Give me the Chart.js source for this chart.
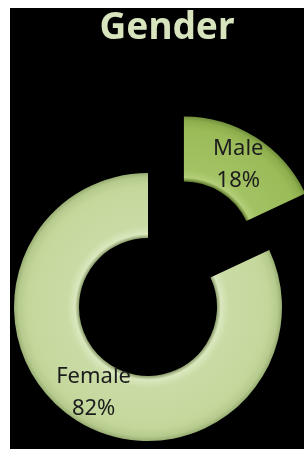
<!DOCTYPE html>
<html>
<head>
<meta charset="utf-8">
<script src="https://cdn.jsdelivr.net/npm/chart.js@4/dist/chart.umd.min.js"></script>
<style>
  html, body { margin: 0; padding: 0; background: #fff; }
  #box { position: absolute; left: 10px; top: 8px; width: 294px; height: 441px; background: #000; }
</style>
</head>
<body>
<div id="box"><canvas id="myChart" width="294" height="441"></canvas></div>
<script>
var chartTitle = 'Gender';
var labels = ['Male', 'Female'];
var values = [18, 82];
var percentLabels = ['18%', '82%'];

var explodedSlice = 'Male';
var explodeDist = 67;
var baseColors = ['#9bbb59', '#c4d79b'];
var shades = [
  ['#5f7a2e', '#b3cf78', '#a3c264', '#9bbb59', '#8eae4e', '#718f3c'],
  ['#8a9c6a', '#dae8be', '#cadca6', '#c4d79b', '#b6ca8d', '#98ad72']
];

// bevel-ish shading across the ring width
function ringGradient(ctx, arc, i) {
  var g = ctx.createRadialGradient(arc.x, arc.y, arc.innerRadius, arc.x, arc.y, arc.outerRadius);
  var s = shades[i];
  g.addColorStop(0, s[0]);
  g.addColorStop(0.06, s[1]);
  g.addColorStop(0.18, s[2]);
  g.addColorStop(0.8, s[3]);
  g.addColorStop(0.93, s[4]);
  g.addColorStop(1, s[5]);
  return g;
}

// pull a slice away from the centre along its middle angle
function sliceShift(arc, i) {
  if (labels[i] !== explodedSlice) return { x: 0, y: 0 };
  var mid = (arc.startAngle + arc.endAngle) / 2;
  return { x: Math.cos(mid) * explodeDist, y: Math.sin(mid) * explodeDist };
}

var explodePlugin = {
  id: 'explode',
  beforeDatasetDraw: function(chart, args) {
    var ctx = chart.ctx;
    args.meta.data.forEach(function(arc, i) {
      var d = sliceShift(arc, i);
      arc.options.backgroundColor = ringGradient(ctx, arc, i);
      ctx.save();
      ctx.translate(d.x, d.y);
      arc.draw(ctx, chart.chartArea);
      ctx.restore();
    });
    return false;
  },
  afterDatasetsDraw: function(chart) {
    var ctx = chart.ctx;
    var meta = chart.getDatasetMeta(0);
    ctx.save();
    ctx.fillStyle = '#1c1c1c';
    ctx.font = '22px "Noto Sans"';
    ctx.textAlign = 'center';
    ctx.textBaseline = 'middle';
    meta.data.forEach(function(arc, i) {
      var p = arc.getCenterPoint();
      var d = sliceShift(arc, i);
      ctx.fillText(labels[i], p.x + d.x, p.y + d.y - 16);
      ctx.fillText(percentLabels[i], p.x + d.x, p.y + d.y + 16);
    });
    // heading
    ctx.fillStyle = '#d7e4bd';
    ctx.font = 'bold 37px "Noto Sans"';
    ctx.textBaseline = 'alphabetic';
    ctx.fillText(chartTitle, 157, 31);
    ctx.restore();
  }
};

window.addEventListener('load', function() {
  var ctx = document.getElementById('myChart').getContext('2d');
  var chart = new Chart(ctx, {
    type: 'doughnut',
    data: {
      labels: labels,
      datasets: [{
        data: values,
        backgroundColor: baseColors,
        borderWidth: 0
      }]
    },
    options: {
      responsive: false,
      animation: false,
      events: [],
      radius: 134,
      cutout: '51.5%',
      layout: { padding: { left: 0, right: 18, top: 157, bottom: 0 } },
      plugins: {
        legend: { display: false },
        tooltip: { enabled: false },
        title: { display: false }
      }
    },
    plugins: [explodePlugin]
  });
});
</script>
</body>
</html>
